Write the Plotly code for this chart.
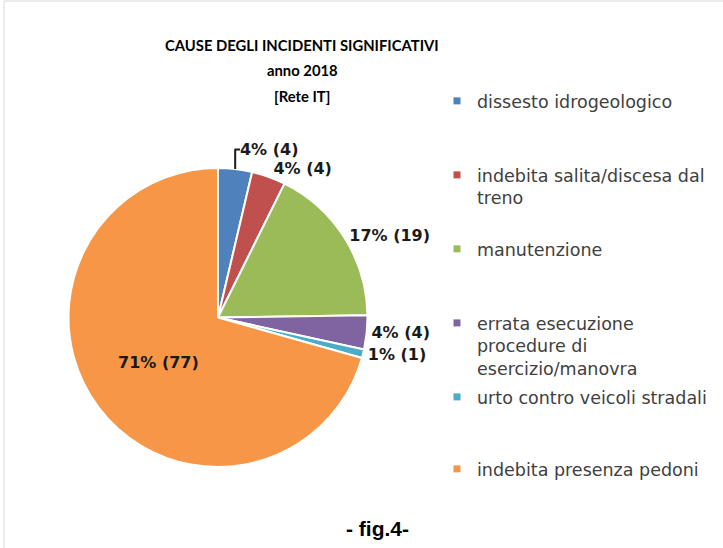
import plotly.graph_objects as go

# data
causes = [
    "dissesto idrogeologico",
    "indebita salita/discesa dal<br>treno",
    "manutenzione",
    "errata esecuzione<br>procedure di<br>esercizio/manovra",
    "urto contro veicoli stradali",
    "indebita presenza pedoni",
]
counts = [4, 4, 19, 4, 1, 77]
colors = ["#4f81bd", "#c0504d", "#9bbb59", "#8064a2", "#4bacc6", "#f79646"]
label_pos = ["outside", "outside", "outside", "outside", "outside", "inside"]
title_lines = ["CAUSE DEGLI INCIDENTI SIGNIFICATIVI", "anno 2018", "[Rete IT]"]

W, H = 723, 548

fig = go.Figure()

fig.add_trace(go.Pie(
    labels=causes,
    values=counts,
    sort=False,
    direction="clockwise",
    rotation=0,
    marker=dict(colors=colors, line=dict(color="white", width=2)),
    texttemplate="%{percent:.0%} (%{value})",
    textposition=label_pos,
    textfont=dict(family="DejaVu Sans", size=16, color="#1a1a1a", weight="bold"),
    insidetextorientation="horizontal",
    showlegend=False,
    domain=dict(x=[68 / W, 368 / W], y=[1 - 467 / H, 1 - 168 / H]),
))

# legend: one slot per cause, evenly spaced like the original
slot_top = [100, 174, 248, 322, 396, 468]
for i, (name, col) in enumerate(zip(causes, colors)):
    key = "legend" if i == 0 else f"legend{i + 1}"
    fig.add_trace(go.Scatter(
        x=[None], y=[None], mode="markers", name=name,
        marker=dict(symbol="square", size=7, color=col),
        legend=key, hoverinfo="skip",
    ))
    fig.update_layout({key: dict(
        x=437 / W, y=1 - (slot_top[i] - 17) / H, xanchor="left", yanchor="top",
        font=dict(family="DejaVu Sans", size=17.5, color="#404040"),
        bgcolor="rgba(0,0,0,0)", itemwidth=30, valign="top",
    )})

title_y = [45, 70, 96]
annotations = [
    dict(text=f"<b>{t}</b>", x=302 / W, y=1 - ty / H, xref="paper", yref="paper",
         xanchor="center", yanchor="middle", showarrow=False,
         font=dict(family="Lato", size=14.8, color="black"))
    for t, ty in zip(title_lines, title_y)
]
annotations.append(
    dict(text="<b>- fig.4-</b>", x=377 / W, y=1 - 528 / H, xref="paper", yref="paper",
         xanchor="center", yanchor="middle", showarrow=False,
         font=dict(family="Liberation Sans", size=21, color="black"))
)

fig.update_layout(
    width=W, height=H,
    margin=dict(l=0, r=0, t=0, b=0),
    paper_bgcolor="white", plot_bgcolor="white",
    xaxis=dict(visible=False), yaxis=dict(visible=False),
    annotations=annotations,
    shapes=[dict(type="rect", xref="paper", yref="paper", x0=4 / W, x1=1.2, y0=-0.2, y1=1 - 1 / H,
                 line=dict(color="#d9d9d9", width=1))],
)

fig.write_html("out.html", config={"displayModeBar": False},
               post_script="document.body.style.margin='0';")
